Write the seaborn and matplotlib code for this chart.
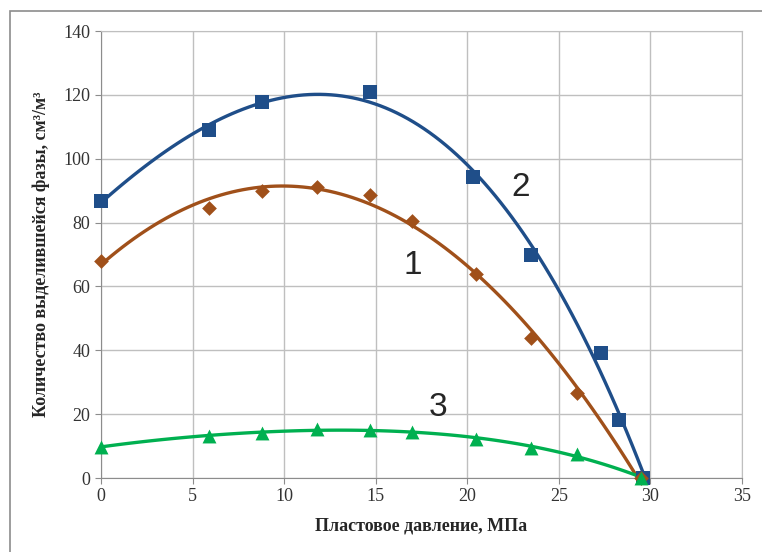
import numpy as np
import pandas as pd
import seaborn as sns
import matplotlib.pyplot as plt
from matplotlib.patches import Rectangle

# pressure (MPa) and released phase (cm3/m3)
p1 = [0, 5.9, 8.8, 11.8, 14.7, 17.0, 20.5, 23.5, 26.0, 29.5]
v1 = [68, 84.7, 90, 91.3, 88.7, 80.6, 63.8, 43.8, 26.6, 0]

p2 = [0, 5.9, 8.8, 14.7, 20.3, 23.5, 27.3, 28.3, 29.6]
v2 = [86.7, 109, 117.7, 120.8, 94.4, 69.7, 39.3, 18.2, 0]

p3 = [0, 5.9, 8.8, 11.8, 14.7, 17.0, 20.5, 23.5, 26.0, 29.5]
v3 = [9.8, 13.2, 14.2, 15.3, 15.1, 14.4, 12.2, 9.4, 7.6, 0]

sns.set_style("white")
plt.rcParams['font.family'] = ['Liberation Serif', 'DejaVu Serif']

fig = plt.figure(figsize=(7.62, 5.52), dpi=100)
ax = fig.add_axes([0.1325, 0.134, 0.8413, 0.8098])

# outer chart frame
fig.patches.append(Rectangle((0.013, -0.05), 1.2, 1.03, transform=fig.transFigure,
                             fill=False, edgecolor='#8c8c8c', linewidth=1.2))

series = [
    (p2, v2, '#1f4e89', 's', 10, 3),
    (p1, v1, '#a0501a', 'D', 7.5, 3),
    (p3, v3, '#00b050', '^', 10, 4),
]
for x, y, col, mk, ms, order in series:
    df = pd.DataFrame({'x': x, 'y': y})
    sns.regplot(data=df, x='x', y='y', order=order, ci=None, ax=ax, truncate=True,
                scatter=False, line_kws={'color': col, 'linewidth': 2.4})
    sns.scatterplot(data=df, x='x', y='y', marker=mk, color=col, s=ms ** 2,
                    edgecolor=col, linewidth=0, ax=ax, zorder=3, clip_on=False)

ax.set_xlim(0, 35)
ax.set_ylim(0, 140)
ax.set_xticks(range(0, 36, 5))
ax.set_yticks(range(0, 141, 20))
ax.grid(True, color='#bfbfbf', linewidth=1)
for s in ax.spines.values():
    s.set_color('#bfbfbf')
ax.spines['left'].set_color('#8c8c8c')
ax.spines['bottom'].set_color('#8c8c8c')
ax.tick_params(axis='both', length=4, color='#8c8c8c', labelsize=13, direction='out',
               bottom=True, left=True, labelcolor='#333333')

ax.set_xlabel('Пластовое давление, МПа', fontsize=13, fontweight='bold', labelpad=9)
ax.set_ylabel('Количество выделившейся фазы, см³/м³', fontsize=13, fontweight='bold', labelpad=10)

for t, xx, yy in [('2', 22.9, 91), ('1', 17.0, 66.5), ('3', 18.4, 22)]:
    ax.text(xx, yy, t, fontsize=24, family='Liberation Sans', ha='center', va='center')

fig.savefig('out.png', dpi=100)
